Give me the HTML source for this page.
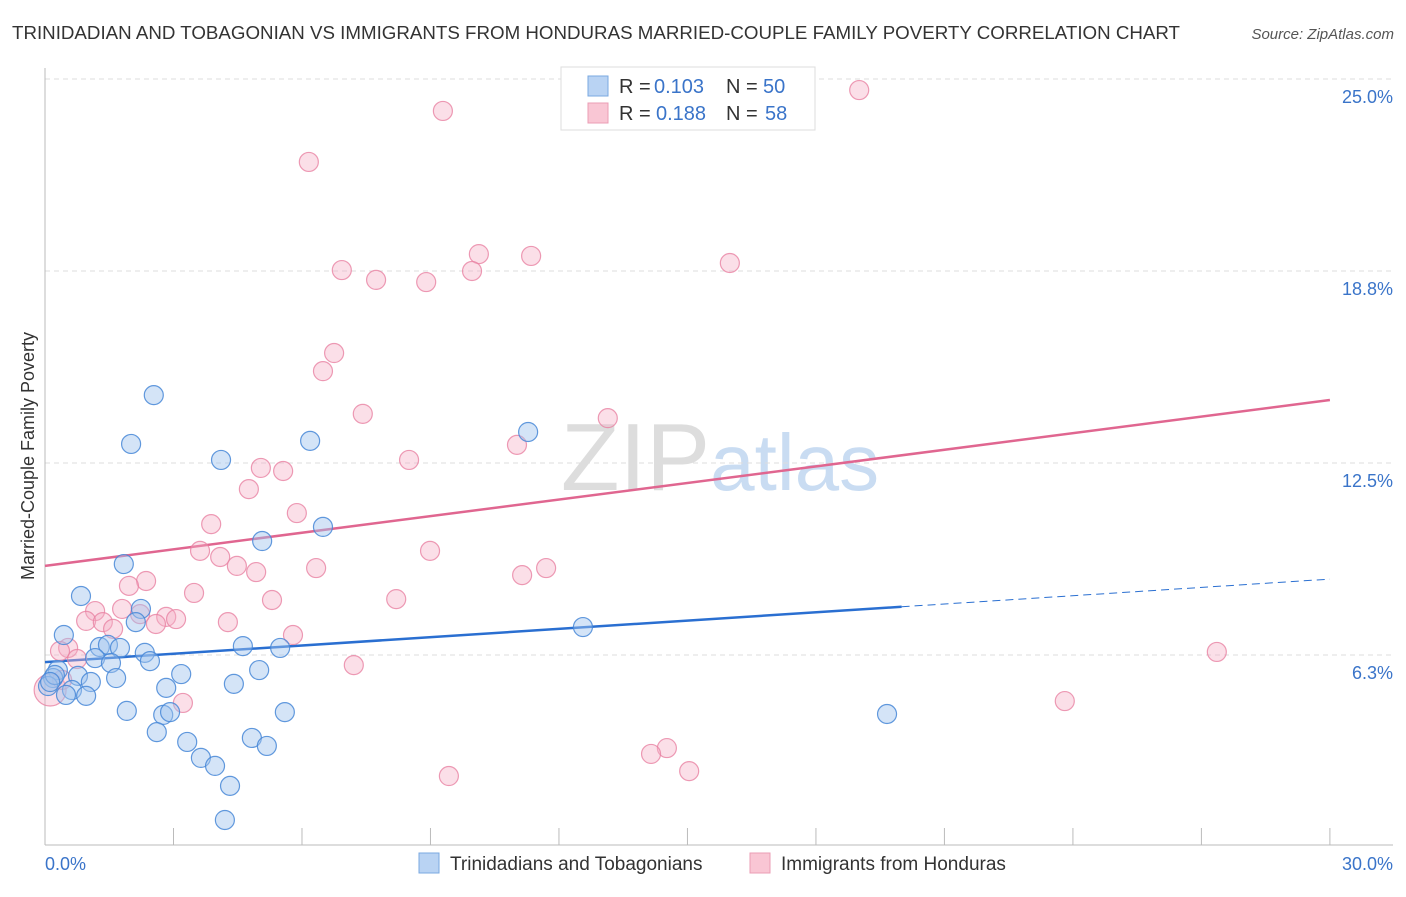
<!DOCTYPE html>
<html><head><meta charset="utf-8"><style>
body{margin:0;background:#fff;font-family:"Liberation Sans",sans-serif;}
svg text{font-family:"Liberation Sans",sans-serif;}
</style></head><body>
<svg id="chart" width="1406" height="892">
<text x="12" y="39" font-size="18" fill="#333" textLength="1168" lengthAdjust="spacingAndGlyphs">TRINIDADIAN AND TOBAGONIAN VS IMMIGRANTS FROM HONDURAS MARRIED-COUPLE FAMILY POVERTY CORRELATION CHART</text>
<text x="1394" y="39" font-size="15" fill="#555" font-style="italic" text-anchor="end">Source: ZipAtlas.com</text>
<text x="720" y="490" font-size="96" fill="#ddd" text-anchor="middle" font-family="Liberation Serif">ZIP<tspan fill="#c9dcf2" font-family="Liberation Sans" font-size="80">atlas</tspan></text>
<g id="grid"></g>
<g id="axes"></g>
<g id="lines"></g>
<g id="pts"></g>
<text transform="translate(34,456) rotate(-90)" font-size="18" fill="#333" text-anchor="middle">Married-Couple Family Poverty</text>
<text x="45" y="870" font-size="18" fill="#3a74c9">0.0%</text>
<text x="1393" y="870" font-size="18" fill="#3a74c9" text-anchor="end">30.0%</text>
<g>
<rect x="561" y="67" width="254" height="63" fill="#fff" stroke="#ddd"/>
<rect x="588" y="76" width="20" height="20" fill="#b9d3f3" stroke="#7aa8e0"/>
<rect x="588" y="103" width="20" height="20" fill="#f9c6d4" stroke="#eb9db5"/>
<text x="619" y="93" font-size="20" fill="#333">R =</text>
<text x="654" y="93" font-size="20" fill="#3a74c9">0.103</text>
<text x="726" y="93" font-size="20" fill="#333">N =</text>
<text x="763" y="93" font-size="20" fill="#3a74c9">50</text>
<text x="619" y="120" font-size="20" fill="#333">R =</text>
<text x="656" y="120" font-size="20" fill="#3a74c9">0.188</text>
<text x="726" y="120" font-size="20" fill="#333">N =</text>
<text x="765" y="120" font-size="20" fill="#3a74c9">58</text>
</g>
<g>
<rect x="419" y="853" width="20" height="20" fill="#b9d3f3" stroke="#7aa8e0"/>
<text x="450" y="870" font-size="19" fill="#333">Trinidadians and Tobagonians</text>
<rect x="750" y="853" width="20" height="20" fill="#f9c6d4" stroke="#eb9db5"/>
<text x="781" y="870" font-size="19" fill="#333">Immigrants from Honduras</text>
</g>
</svg>
<script>
const yTicks=[25.0,18.8,12.5,6.3];
const yTickVals=[25,18.75,12.5,6.25];
const blueX=[2.54,2.01,4.11,6.19,11.28,6.49,5.07,1.84,0.84,2.24,2.12,0.44,12.56,1.28,1.47,1.75,2.33,1.17,2.45,1.54,4.62,5.49,0.30,0.77,0.19,1.07,1.66,3.18,5.00,0.07,0.63,0.96,0.49,2.83,4.41,1.91,2.76,2.92,5.60,19.66,2.61,3.32,4.83,5.18,3.64,3.97,4.32,4.20,0.23,0.12];
const blueY=[14.71,13.12,12.60,13.22,13.51,10.42,9.96,9.21,8.17,7.75,7.32,6.90,7.16,6.51,6.58,6.48,6.32,6.15,6.05,5.99,6.54,6.48,5.76,5.57,5.50,5.37,5.50,5.63,5.76,5.24,5.11,4.92,4.95,5.18,5.31,4.43,4.30,4.39,4.39,4.33,3.74,3.42,3.55,3.29,2.90,2.64,1.99,0.88,5.60,5.37];
const pinkX=[19.01,9.29,6.16,10.13,11.35,15.99,6.93,7.73,8.90,9.97,6.75,6.49,7.42,13.14,11.02,8.50,5.04,5.56,4.76,3.88,5.88,8.99,3.62,4.09,4.48,4.93,6.33,11.70,11.14,2.36,1.96,3.48,5.30,8.20,1.17,1.80,2.83,3.06,0.96,1.35,4.27,2.59,1.59,5.79,0.54,0.35,0.75,27.36,7.21,3.22,23.81,14.52,14.15,15.04,9.43,0.12,2.22,0.40];
const pinkY=[24.64,23.96,22.30,19.30,19.24,19.01,18.78,18.46,18.39,18.75,16.08,15.49,14.10,13.96,13.09,12.60,12.34,12.24,11.65,10.51,10.87,9.64,9.64,9.44,9.15,8.95,9.08,9.08,8.85,8.66,8.50,8.27,8.04,8.07,7.68,7.75,7.49,7.42,7.36,7.32,7.32,7.26,7.10,6.90,6.48,6.38,6.12,6.35,5.92,4.69,4.75,3.22,3.03,2.47,2.31,5.11,7.58,5.44];
const blueTrend=[6.02,8.72];
const pinkTrend=[9.15,14.55];
const xs=v=>45+v*42.83, ys=v=>79+(25-v)*30.72;
const NS='http://www.w3.org/2000/svg';
function mk(tag,attrs,parent){const e=document.createElementNS(NS,tag);for(const k in attrs)e.setAttribute(k,attrs[k]);document.getElementById(parent).appendChild(e);return e;}
yTickVals.forEach((v,i)=>{
 const l=mk('line',{x1:45,x2:1393,y1:ys(v),y2:ys(v),stroke:'#ddd','stroke-dasharray':'5,4'},'grid');
 
 
 const t=mk('text',{x:1393,y:ys(v)+24,'font-size':18,fill:'#3a74c9','text-anchor':'end'},'grid');
 t.textContent=yTicks[i].toFixed(1)+'%';
 
 
});
const ax=mk('line',{x1:45,x2:45,y1:68,y2:845,stroke:'#bbb'},'axes');


const bx=mk('line',{x1:45,x2:1393,y1:845,y2:845,stroke:'#bbb'},'axes');


for(let i=0;i<=10;i++){const t=mk('line',{x1:xs(i*3),x2:xs(i*3),y1:828,y2:845,stroke:'#bbb'},'axes');
 
 }
function pts(X,Y,fill,stroke,name){X.forEach((x,i)=>{const r=(i===X.length-3&&name==='pink-point')?16:9.5;
 const c=mk('circle',{cx:xs(x),cy:ys(Y[i]),r:r,fill:fill,stroke:stroke,'stroke-width':1.2},'pts');
 
 });}
pts(pinkX,pinkY,'rgba(246,176,198,0.4)','rgba(232,130,162,0.8)','pink-point');
pts(blueX,blueY,'rgba(160,196,238,0.45)','rgba(70,135,215,0.85)','blue-point');
const bm=blueTrend[0]+(blueTrend[1]-blueTrend[0])*20/30;
const l1=mk('line',{x1:xs(0),y1:ys(blueTrend[0]),x2:xs(20),y2:ys(bm),stroke:'#2a6fd1','stroke-width':2.5},'lines');


const l2=mk('line',{x1:xs(20),y1:ys(bm),x2:xs(30),y2:ys(blueTrend[1]),stroke:'#2a6fd1','stroke-width':1,'stroke-dasharray':'8,5'},'lines');


const l3=mk('line',{x1:xs(0),y1:ys(pinkTrend[0]),x2:xs(30),y2:ys(pinkTrend[1]),stroke:'#e06690','stroke-width':2.5},'lines');


</script>
</body></html>
